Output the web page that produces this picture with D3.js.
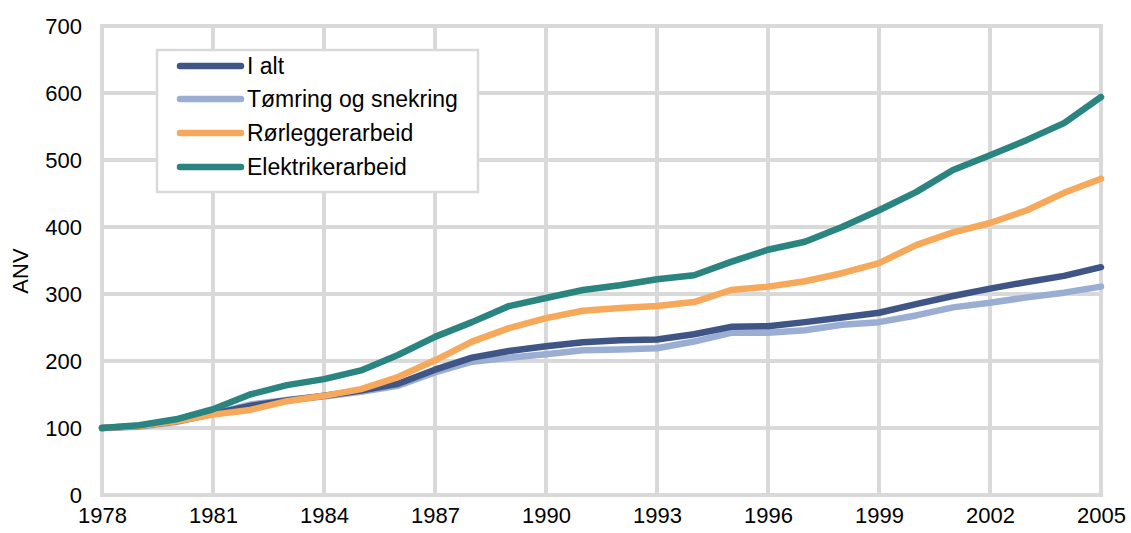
<!DOCTYPE html>
<html><head><meta charset="utf-8">
<script src="https://cdn.jsdelivr.net/npm/d3@7"></script>
<style>body{margin:0;background:#fff}svg{display:block;font-family:"Liberation Sans",Arial,sans-serif}</style>
</head><body><svg id="c" width="1131" height="533"></svg>
<script>
const years = [1978,1979,1980,1981,1982,1983,1984,1985,1986,1987,1988,1989,1990,1991,1992,1993,1994,1995,1996,1997,1998,1999,2000,2001,2002,2003,2004,2005];
const iAlt =      [100,103,110,121,133,141,148,156,166,187,205,215,222,228,231,232,240,251,252,258,265,272,285,297,308,318,327,340];
const tomring =   [100,102,109,121,135,142,147,154,163,183,199,205,210,216,217,219,229,242,242,246,254,258,268,280,287,295,302,311];
const rorlegger = [100,103,110,120,127,140,148,158,176,201,229,249,264,275,279,282,288,306,311,319,331,346,373,392,406,425,451,472];
const elektriker =[100,104,113,128,150,164,173,186,209,236,258,282,294,306,313,322,328,348,366,378,400,425,452,485,507,530,555,594];
const seriesNames = ["I alt","Tømring og snekring","Rørleggerarbeid","Elektrikerarbeid"];
const seriesColors = ["#3e5586","#9aadd2","#f6a85b","#2a8480"];
const xTicks = [1978,1981,1984,1987,1990,1993,1996,1999,2002,2005];
const yTicks = [0,100,200,300,400,500,600,700];
const yLabel = "ANV";

const svg = d3.select("#c");
const x = d3.scaleLinear().domain([1978,2005]).range([102,1101]);
const y = d3.scaleLinear().domain([0,700]).range([495,26]);
const grid = "#d9d9d9";

// grid
svg.append("g").selectAll("line").data(yTicks).join("line")
  .attr("x1",x(1978)).attr("x2",x(2005)).attr("y1",d=>y(d)).attr("y2",d=>y(d))
  .attr("stroke",grid).attr("stroke-width",4);
svg.append("g").selectAll("line").data(xTicks).join("line")
  .attr("x1",d=>x(d)).attr("x2",d=>x(d)).attr("y1",y(0)+2).attr("y2",y(700)-2)
  .attr("stroke",grid).attr("stroke-width",4);

// axes (labels only)
const yAxis = d3.axisLeft(y).tickValues(yTicks).tickSize(0).tickPadding(20).tickFormat(d3.format("d"));
const gy = svg.append("g").attr("transform",`translate(${x(1978)},0)`).call(yAxis);
gy.select(".domain").remove();
gy.selectAll("text").attr("font-size",22).attr("fill","#000").attr("font-family","'Liberation Sans',Arial,sans-serif");
const xAxis = d3.axisBottom(x).tickValues(xTicks).tickSize(0).tickPadding(12).tickFormat(d3.format("d"));
const gx = svg.append("g").attr("transform",`translate(0,${y(0)})`).call(xAxis);
gx.select(".domain").remove();
gx.selectAll("text").attr("font-size",22).attr("fill","#000").attr("font-family","'Liberation Sans',Arial,sans-serif");

svg.append("text").attr("transform","translate(28,271) rotate(-90)").attr("text-anchor","middle")
  .attr("font-size",22).attr("fill","#000").text(yLabel);

// lines
const data = [iAlt,tomring,rorlegger,elektriker];
const order = [1,0,2,3];
const line = d3.line().x((d,i)=>x(years[i])).y(d=>y(d));
order.forEach(k=>{
  svg.append("path").datum(data[k]).attr("d",line).attr("fill","none")
    .attr("stroke",seriesColors[k]).attr("stroke-width",6.5).attr("stroke-linejoin","round").attr("stroke-linecap","round");
});

// legend
const lg = svg.append("g");
lg.append("rect").attr("x",157).attr("y",50).attr("width",321).attr("height",142)
  .attr("fill","#fff").attr("stroke",grid).attr("stroke-width",2.5);
const rowY = [66,99,133,167];
seriesNames.forEach((n,i)=>{
  lg.append("line").attr("x1",180).attr("x2",241).attr("y1",rowY[i]).attr("y2",rowY[i])
    .attr("stroke",seriesColors[i]).attr("stroke-width",6.5).attr("stroke-linecap","round");
  lg.append("text").attr("x",247).attr("y",rowY[i]).attr("dy","0.36em").attr("font-size",23).attr("fill","#000").text(n);
});
</script></body></html>
